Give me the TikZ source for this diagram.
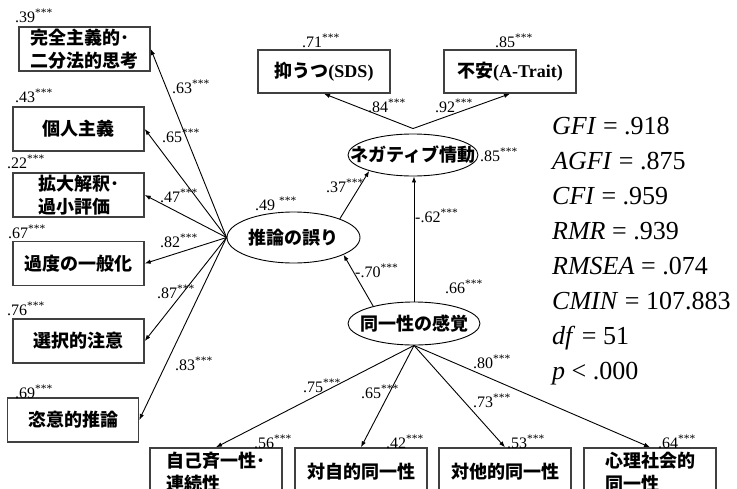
\documentclass[tikz,border=0pt]{standalone}
\usepackage{fontspec}
\setmainfont{Liberation Serif}
\newfontfamily\jp{Noto Sans CJK JP}
\usetikzlibrary{shapes.geometric,arrows.meta}
\newcommand{\stars}{\raisebox{5.5pt}{\fontsize{11.5}{11.5}\selectfont ***}}
\newcommand{\sg}[1]{#1\stars}
\newcommand{\et}[1]{\smash{\raisebox{-6.5pt}{\makebox[0pt]{#1}}}}
\begin{document}
\begin{tikzpicture}[x=1pt,y=-1pt,
  box/.style={draw=black!75, line width=1.5pt, minimum width=131pt, minimum height=44pt,
    inner sep=0pt, align=left, font=\jp\bfseries\fontsize{18}{23}\selectfont},
  ell/.style={draw, ellipse, line width=0.9pt, inner sep=0pt,
    font=\jp\bfseries\fontsize{18}{23}\selectfont},
  arr/.style={-{Latex[length=6pt,width=4.5pt]}, line width=0.9pt},
  lab/.style={anchor=base west, inner sep=0pt, font=\fontsize{16}{16}\selectfont},
  st/.style={anchor=base west, inner sep=0pt, font=\fontsize{26}{26}\selectfont}]
\useasboundingbox (0,0) rectangle (737,488);
\clip (0,0) rectangle (737,488);

% left boxes
\node[box] (L1) at (84.5,49) {完全主義的･\\二分法的思考};
\node[box] (L2) at (78.5,129) {個人主義};
\node[box] (L3) at (78.5,195) {拡大解釈･\\過小評価};
\node[box] (L4) at (78.5,263.5) {過度の一般化};
\node[box] (L5) at (78.5,341) {選択的注意};
\node[box] (L6) at (73,420) {恣意的推論};

% top boxes
\node[box, minimum width=132pt, minimum height=43pt] (T1) at (324,71.5) {{\jp 抑うつ}{\rmfamily\bfseries (SDS)}};
\node[box, minimum width=132pt, minimum height=43pt] (T2) at (510,71.5) {{\jp 不安}{\rmfamily\bfseries (A-Trait)}};

% bottom boxes
\node[box, minimum width=132pt, minimum height=48pt] (B1) at (216,472) {自己斉一性･\\連続性};
\node[box, minimum width=132pt, minimum height=48pt] (B2) at (361,472) {対自的同一性};
\node[box, minimum width=132pt, minimum height=48pt] (B3) at (505,472) {対他的同一性};
\node[box, minimum width=132pt, minimum height=48pt] (B4) at (650,472) {心理社会的\\同一性};

% ellipses
\node[ell, minimum width=133pt, minimum height=51pt] (err) at (293.5,237.5) {\et{推論の誤り}};
\node[ell, minimum width=130pt, minimum height=42pt] (neg) at (413,155) {\et{ネガティブ情動}};
\node[ell, minimum width=132pt, minimum height=43pt] (id) at (414,323.5) {\et{同一性の感覚}};

\coordinate (negtop) at ([yshift=5pt]neg.north);

% arrows
\foreach \b in {L1,L2,L3,L4,L5,L6} \draw[arr] (err.west) -- (\b.east);
\draw[arr] (negtop) -- (T1.south);
\draw[arr] (negtop) -- (T2.south);
\foreach \b in {B1,B2,B3,B4} \draw[arr] (id.south) -- (\b.north);
\draw[arr] (err.22) -- (neg.200);
\draw[arr] (id.north) -- (id.north |- neg.south);
\draw[arr] (id.157) -- (err.341);

% loadings / residual labels
\node[lab] (l39) at (15,22) {\sg{.39}};
\node[lab] (l43) at (15,102) {\sg{.43}};
\node[lab] (l22) at (7,168) {\sg{.22}};
\node[lab] (l67) at (8,238) {\sg{.67}};
\node[lab] (l76) at (7,315) {\sg{.76}};
\node[lab] (l69) at (15,398) {\sg{.69}};
\node[lab] (p63) at (172,93) {\sg{.63}};
\node[lab] (p65) at (162,142) {\sg{.65}};
\node[lab] (p47) at (160,202) {\sg{.47}};
\node[lab] (p82) at (160,247) {\sg{.82}};
\node[lab] (p87) at (157,298) {\sg{.87}};
\node[lab] (p83) at (175,370) {\sg{.83}};
\node[lab] (l71) at (302,47) {\sg{.71}};
\node[lab] (l85) at (495,47) {\sg{.85}};
\node[lab] (p84) at (368,112) {\sg{.84}};
\node[lab] (p92) at (435,112) {\sg{.92}};
\node[lab] (r85) at (480,161) {\sg{.85}};
\node[lab] (p37) at (326,192) {\sg{.37}};
\node[lab] (r49) at (255,210) {.49 \stars};
\node[lab] (p62) at (415,222) {\sg{-.62}};
\node[lab] (p70) at (355,277) {\sg{-.70}};
\node[lab] (r66) at (445,293) {\sg{.66}};
\node[lab] (p75) at (303,392) {\sg{.75}};
\node[lab] (p65b) at (361,398) {\sg{.65}};
\node[lab] (p80) at (473,368) {\sg{.80}};
\node[lab] (p73) at (473,407) {\sg{.73}};
\node[lab] (r56) at (254,448) {\sg{.56}};
\node[lab] (r42) at (386,448) {\sg{.42}};
\node[lab] (r53) at (507,448) {\sg{.53}};
\node[lab] (r64) at (658,448) {\sg{.64}};

% fit statistics
\node[st] (s1) at (552,134) {\textit{GFI} = .918};
\node[st] (s2) at (552,169) {\textit{AGFI} = .875};
\node[st] (s3) at (552,204) {\textit{CFI} = .959};
\node[st] (s4) at (552,239) {\textit{RMR} = .939};
\node[st] (s5) at (552,274) {\textit{RMSEA} = .074};
\node[st] (s6) at (552,309) {\textit{CMIN} = 107.883};
\node[st] (s7) at (552,344) {\textit{df} = 51};
\node[st] (s8) at (552,379) {\textit{p} < .000};
\end{tikzpicture}
\end{document}
